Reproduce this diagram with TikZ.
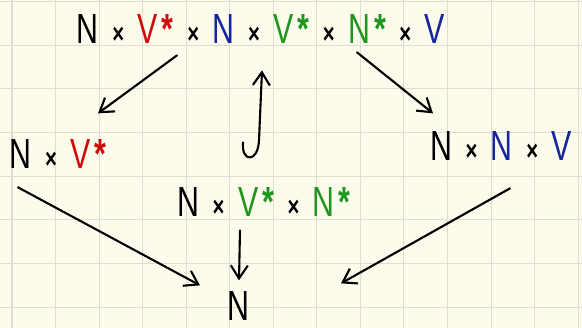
\documentclass[tikz,border=0pt]{standalone}
\usepackage{fontspec}
\setmainfont{Liberation Sans}[FakeStretch=0.72]
\usepackage{xcolor}
\usetikzlibrary{arrows.meta,calc}

\definecolor{inkred}{HTML}{D00A0A}
\definecolor{inkblue}{HTML}{16249E}
\definecolor{inkgreen}{HTML}{1F961F}
\definecolor{paper}{HTML}{FDFBEC}
\definecolor{gridline}{HTML}{DEDDCF}

\newcommand{\prodx}{\hspace{0.27cm}{\fontsize{16}{16}\selectfont\bfseries ×}\hspace{0.27cm}}
\newcommand{\dualstar}{\hspace{0.08cm}\textbf{*}}

\begin{document}
\begin{tikzpicture}[
  x=0.02cm, y=-0.02cm,
  term/.style={inner sep=0pt, text depth=0pt, anchor=base,
               font=\fontsize{24}{24}\selectfont},
  edge/.style={-{Straight Barb[length=2.6mm,width=3.4mm]}, line width=1.2pt,
               line cap=round, line join=round}
]
  \useasboundingbox (0,0) rectangle (582,328);
  \fill[paper] (0,0) rectangle (582,328);
  \foreach \i in {0,...,13}
    \draw[gridline, line width=0.6pt] ({12+43.55*\i},0) -- ({12+43.55*\i},328);
  \foreach \j in {0,...,7}
    \draw[gridline, line width=0.6pt] (0,{1.5+43.65*\j}) -- (582,{1.5+43.65*\j});

  \node[term] (top) at (261,43) {N\prodx\textcolor{inkred}{V\dualstar}\prodx\textcolor{inkblue}{N}\prodx\textcolor{inkgreen}{V\dualstar}\prodx\textcolor{inkgreen}{N\dualstar}\prodx\textcolor{inkblue}{V}};
  \node[term] (left) at (58,168) {N\prodx\textcolor{inkred}{V\dualstar}};
  \node[term] (right) at (501,160) {N\prodx\textcolor{inkblue}{N}\prodx\textcolor{inkblue}{V}};
  \node[term] (mid) at (264,216) {N\prodx\textcolor{inkgreen}{V\dualstar}\prodx\textcolor{inkgreen}{N\dualstar}};
  \node[term] (bot) at (238,320) {N};

  \draw[edge] ($(top.south)+(-84,12)$) -- ($(left.south)+(40,-55)$);
  \draw[edge] ($(top.south)+(96,9)$) -- ($(right.south)+(-68,-47)$);
  \draw[edge] ($(mid.south)+(-21,-74)$) .. controls ($(mid.south)+(-23,-54)$) and ($(mid.south)+(-6,-53)$) .. ($(mid.south)+(-5,-76)$) -- ($(top.south)+(1,27)$);
  \draw[edge] ($(left.south)+(-40,19)$) -- ($(bot.south)+(-38,-35)$);
  \draw[edge] ($(mid.south)+(-24,14)$) -- ($(bot.south)+(1,-40)$);
  \draw[edge] ($(right.south)+(9,28)$) -- ($(bot.south)+(103,-37)$);
\end{tikzpicture}
\end{document}
